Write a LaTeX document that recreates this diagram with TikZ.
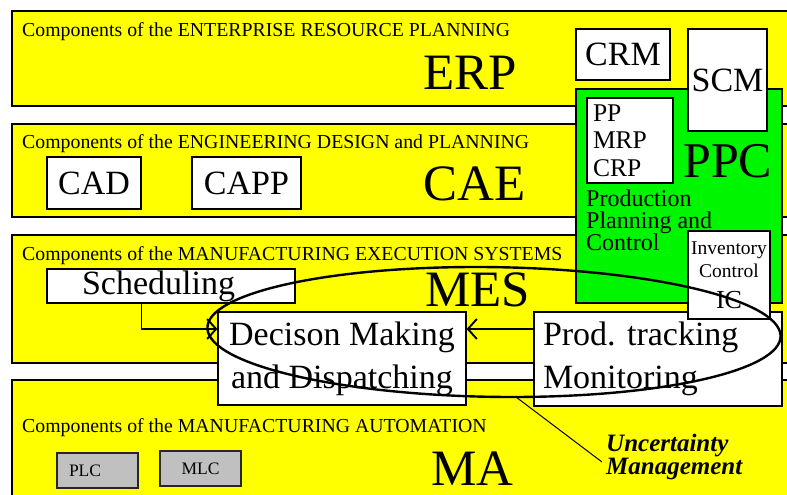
\documentclass[tikz,border=0pt]{standalone}
\usepackage{fontspec}
\setmainfont{Liberation Serif}
\usetikzlibrary{arrows.meta}
\definecolor{bandyellow}{RGB}{255,255,0}
\definecolor{ppcgreen}{RGB}{0,245,0}
\definecolor{boxgray}{RGB}{192,192,192}
\newcommand{\fsz}[2]{\fontsize{#1}{#2}\selectfont}
\frenchspacing

\begin{document}
\begin{tikzpicture}[x=1pt,y=-1pt,
  band/.style={draw=black,line width=2.5pt,fill=bandyellow},
  bandlabel/.style={anchor=base west,inner sep=0pt,font=\fsz{19.8}{22}},
  bandtitle/.style={anchor=base west,inner sep=0pt,font=\fsz{51}{56}},
  wbox/.style={draw=black,line width=1.2pt,fill=white,inner sep=0pt},
  bigbox/.style={wbox,font=\fsz{34}{43},align=center},
  graybox/.style={draw=black!85,line width=1.3pt,fill=boxgray,inner sep=0pt,font=\fsz{17.5}{20}},
  conn/.style={line width=1.2pt,-{Straight Barb[length=9pt,width=20pt,line width=1.9pt]}},
]
\useasboundingbox (0,0) rectangle (787,495);
\clip (0,0) rectangle (787,495);

% layers of the enterprise
\draw[band] (12,11) rectangle (800,106);
\draw[band] (12,124) rectangle (800,217);
\draw[band] (12,235) rectangle (800,363);
\draw[band] (12,380) rectangle (800,520);

\node[bandlabel] (erplbl) at (22,37) {Components of the ENTERPRISE RESOURCE PLANNING};
\node[bandlabel] (caelbl) at (22,148) {Components of the ENGINEERING DESIGN and PLANNING};
\node[bandlabel] (meslbl) at (22,260) {Components of the MANUFACTURING EXECUTION SYSTEMS};
\node[bandlabel] (malbl) at (22,432) {Components of the MANUFACTURING AUTOMATION};

\node[bandtitle] (erp) at (423,89) {ERP};
\node[bandtitle] (cae) at (423,200) {CAE};
\node[bandtitle] (mes) at (425,306) {MES};
\node[bandtitle] (ma) at (431,485) {MA};

% engineering components
\node[bigbox,minimum width=94pt,minimum height=52pt] (cad) at (94,183) {CAD};
\node[bigbox,minimum width=109pt,minimum height=52pt] (capp) at (246.5,183) {CAPP};

% production planning and control
\node[draw=black,line width=1.2pt,fill=ppcgreen,inner sep=0pt,
      minimum width=206pt,minimum height=214pt] (ppc) at (679,196) {};
\node[bigbox,minimum width=94pt,minimum height=51pt] (crm) at (623,54.5) {CRM};
\node[bigbox,minimum width=79pt,minimum height=102pt] (scm) at (727.5,80) {SCM};
\node[wbox,minimum width=86pt,minimum height=85pt,text width=74pt,inner xsep=6pt,
      align=left,font=\fsz{25.5}{27.5}] (pp) at (630,140.5) {PP\\MRP\\CRP};
\node[anchor=base west,inner sep=0pt,font=\fsz{50}{56}] (ppclbl) at (683,177) {PPC};
\node[anchor=north west,inner sep=0pt,align=left,
      font={\fsz{24}{22}\lineskiplimit=-50pt}] (ppcname) at (586,190)
      {Production\\Planning and\\Control};

% execution components
\node[wbox,minimum width=248pt,minimum height=34pt,text width=178pt,inner xsep=35pt,
      align=left,font=\fsz{34}{40}] (sched) at (171,286) {Scheduling};
\node[bigbox,minimum width=248pt,minimum height=93pt] (dec) at (342,358.5)
      {Decison Making\\and Dispatching};
\node[wbox,minimum width=248pt,minimum height=94pt,text width=230pt,inner xsep=9pt,
      align=left,font=\fsz{34}{43}] (prod) at (658,359) {Prod. tracking\\Monitoring};
\node[wbox,minimum width=82pt,minimum height=88pt,align=center,font=\fsz{19.5}{23}]
      (ic) at (729,275) {Inventory\\Control\\[8pt]{\fsz{26}{30}IC}};

\draw[conn] ([xshift=95pt]sched.south west) |- ([yshift=29.5pt]dec.west);
\draw[conn] ([yshift=30pt]prod.west) -- ([yshift=29.5pt]dec.east);

% automation components
\node[graybox,minimum width=81pt,minimum height=35pt,text width=57pt,inner xsep=12pt,
      align=left] (plc) at (97.5,470.5) {PLC};
\node[graybox,minimum width=81pt,minimum height=35pt] (mlc) at (200.5,468.5) {MLC};

% uncertainty management loop
\draw[line width=2.4pt,shift={(494,332)},xslant=-0.28] (0,0) ellipse [x radius=286, y radius=65];
\coordinate (ellbot) at (516,397);
\node[anchor=west,inner sep=0pt,align=left,font=\fsz{25}{23}\bfseries\itshape]
      (unc) at (606,457) {Uncertainty\\Management};
\draw[line width=1pt] (ellbot) -- ([xshift=-4pt,yshift=-5pt]unc.west);
\end{tikzpicture}
\end{document}
